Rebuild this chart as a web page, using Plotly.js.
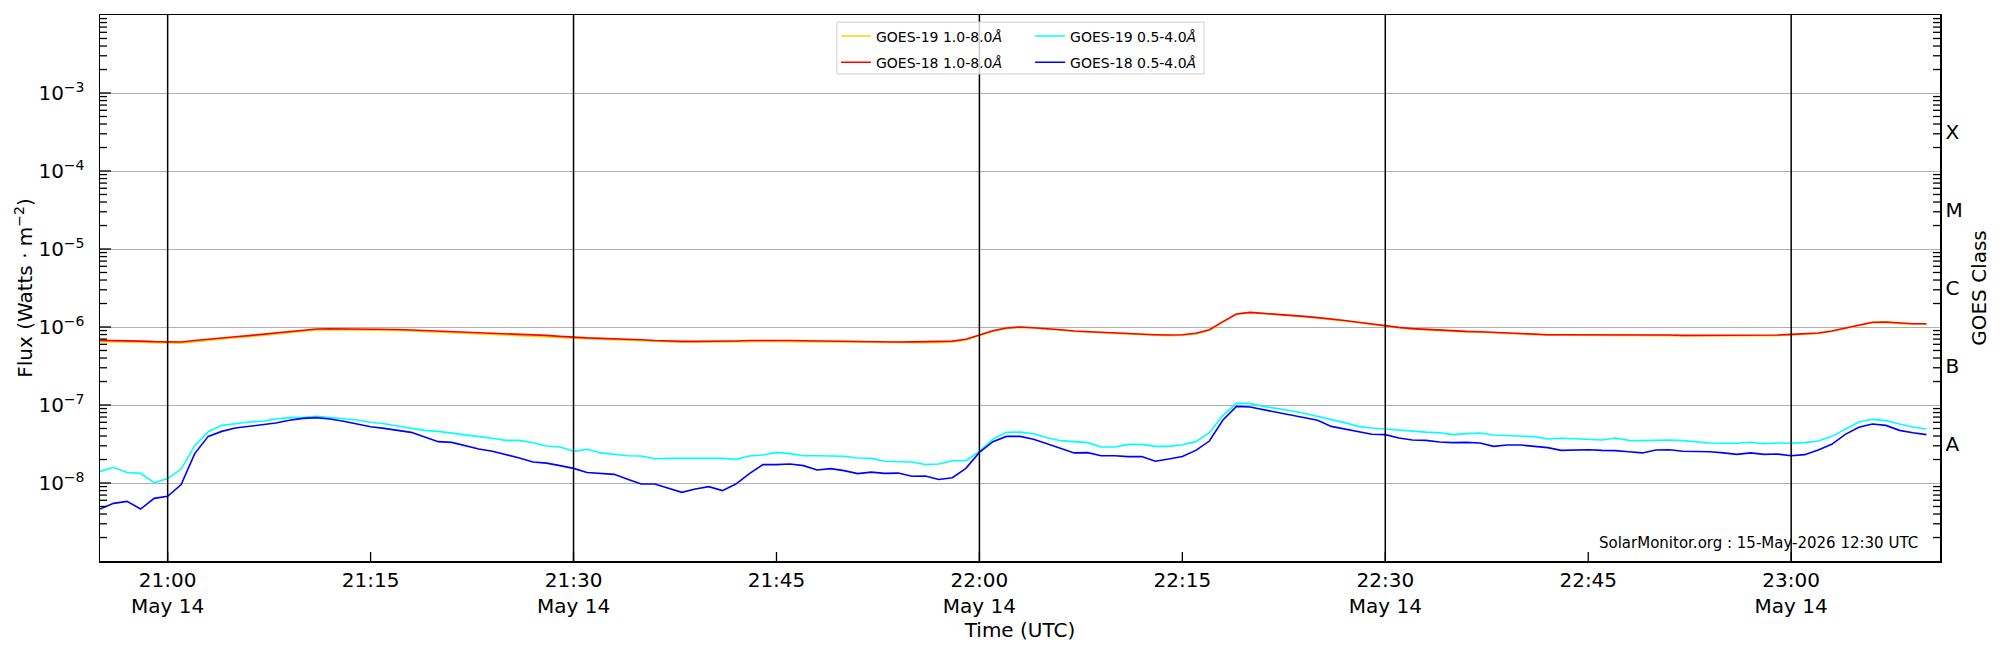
<!DOCTYPE html>
<html>
<head>
<meta charset="utf-8">
<script src="https://cdn.plot.ly/plotly-3.0.1.min.js"></script>
<style>
  html, body { margin: 0; padding: 0; background: #fff; }
  #chart { width: 2000px; height: 650px; }
</style>
</head>
<body>
<div id="chart"></div>
<script>
// one-minute samples, 20:55 to 23:10 UTC on 14 May
const startTime = "2026-05-14 20:55";
const nSamples = 136;

const goes19Long = [
  6.5e-7, 6.5e-7, 6.48e-7, 6.4e-7, 6.3e-7,
  6.2e-7, 6.22e-7, 6.5e-7, 6.8e-7, 7.1e-7, 7.3e-7, 7.5e-7, 7.8e-7, 8.1e-7, 8.45e-7,
  8.8e-7, 9.15e-7, 9.25e-7, 9.25e-7, 9.25e-7, 9.2e-7, 9.15e-7, 9.05e-7, 8.9e-7, 8.75e-7,
  8.6e-7, 8.5e-7, 8.35e-7, 8.25e-7, 8.15e-7, 8.05e-7, 7.9e-7, 7.75e-7, 7.57e-7, 7.37e-7,
  7.17e-7, 7.05e-7, 6.95e-7, 6.87e-7, 6.75e-7, 6.65e-7, 6.5e-7, 6.42e-7, 6.37e-7, 6.37e-7,
  6.37e-7, 6.37e-7, 6.43e-7, 6.5e-7, 6.55e-7, 6.53e-7, 6.5e-7, 6.46e-7, 6.4e-7, 6.42e-7,
  6.38e-7, 6.3e-7, 6.26e-7, 6.23e-7, 6.23e-7, 6.26e-7, 6.3e-7, 6.36e-7, 6.42e-7, 6.8e-7,
  7.75e-7, 8.85e-7, 9.6e-7, 9.9e-7, 9.7e-7, 9.5e-7, 9.12e-7, 8.76e-7, 8.58e-7, 8.38e-7,
  8.24e-7, 8.16e-7, 7.96e-7, 7.83e-7, 7.75e-7, 7.83e-7, 8.16e-7, 9.1e-7, 1.16e-6, 1.46e-6,
  1.53e-6, 1.49e-6, 1.46e-6, 1.42e-6, 1.36e-6, 1.31e-6, 1.26e-6, 1.2e-6, 1.14e-6, 1.08e-6,
  1.02e-6, 9.8e-7, 9.4e-7, 9.18e-7, 9.02e-7, 8.84e-7, 8.67e-7, 8.58e-7, 8.42e-7, 8.24e-7,
  8.09e-7, 7.97e-7, 7.84e-7, 7.84e-7, 7.84e-7, 7.84e-7, 7.92e-7, 7.92e-7, 7.92e-7, 7.76e-7,
  7.76e-7, 7.76e-7, 7.69e-7, 7.69e-7, 7.69e-7, 7.69e-7, 7.69e-7, 7.69e-7, 7.76e-7, 7.76e-7,
  7.92e-7, 8.0e-7, 8.24e-7, 8.74e-7, 9.46e-7, 1.045e-6, 1.135e-6, 1.145e-6, 1.105e-6, 1.085e-6, 1.085e-6
];

const goes18Long = [
  6.74e-7, 6.72e-7, 6.7e-7, 6.6e-7, 6.5e-7,
  6.4e-7, 6.42e-7, 6.7e-7, 7.0e-7, 7.3e-7, 7.5e-7, 7.75e-7, 8.05e-7, 8.37e-7, 8.7e-7,
  9.05e-7, 9.42e-7, 9.5e-7, 9.5e-7, 9.5e-7, 9.45e-7, 9.42e-7, 9.3e-7, 9.15e-7, 9.0e-7,
  8.88e-7, 8.75e-7, 8.6e-7, 8.5e-7, 8.4e-7, 8.3e-7, 8.15e-7, 8.0e-7, 7.8e-7, 7.59e-7,
  7.38e-7, 7.25e-7, 7.15e-7, 7.08e-7, 6.95e-7, 6.85e-7, 6.7e-7, 6.6e-7, 6.55e-7, 6.55e-7,
  6.55e-7, 6.55e-7, 6.62e-7, 6.7e-7, 6.74e-7, 6.72e-7, 6.7e-7, 6.65e-7, 6.6e-7, 6.62e-7,
  6.58e-7, 6.5e-7, 6.45e-7, 6.42e-7, 6.42e-7, 6.45e-7, 6.5e-7, 6.55e-7, 6.6e-7, 6.95e-7,
  7.89e-7, 8.97e-7, 9.7e-7, 1.0e-6, 9.8e-7, 9.61e-7, 9.24e-7, 8.88e-7, 8.7e-7, 8.5e-7,
  8.37e-7, 8.3e-7, 8.1e-7, 7.97e-7, 7.89e-7, 7.97e-7, 8.3e-7, 9.24e-7, 1.17e-6, 1.47e-6,
  1.54e-6, 1.5e-6, 1.47e-6, 1.43e-6, 1.37e-6, 1.32e-6, 1.27e-6, 1.21e-6, 1.15e-6, 1.09e-6,
  1.03e-6, 9.9e-7, 9.52e-7, 9.3e-7, 9.15e-7, 8.97e-7, 8.8e-7, 8.71e-7, 8.55e-7, 8.37e-7,
  8.22e-7, 8.1e-7, 7.97e-7, 7.97e-7, 7.97e-7, 7.97e-7, 8.05e-7, 8.05e-7, 8.05e-7, 7.89e-7,
  7.89e-7, 7.89e-7, 7.82e-7, 7.82e-7, 7.82e-7, 7.82e-7, 7.82e-7, 7.82e-7, 7.89e-7, 7.89e-7,
  8.05e-7, 8.13e-7, 8.37e-7, 8.88e-7, 9.61e-7, 1.06e-6, 1.15e-6, 1.16e-6, 1.12e-6, 1.10e-6, 1.10e-6
];

const goes19Short = [
  1.41e-8, 1.59e-8, 1.36e-8, 1.33e-8, 1.01e-8,
  1.14e-8, 1.51e-8, 3.01e-8, 4.55e-8, 5.48e-8, 5.76e-8, 6.05e-8, 6.18e-8, 6.62e-8, 6.88e-8,
  6.88e-8, 7.16e-8, 6.88e-8, 6.62e-8, 6.42e-8, 6.00e-8, 5.76e-8, 5.38e-8, 5.02e-8, 4.73e-8,
  4.59e-8, 4.33e-8, 4.17e-8, 3.93e-8, 3.74e-8, 3.52e-8, 3.52e-8, 3.29e-8, 2.98e-8, 2.89e-8,
  2.55e-8, 2.70e-8, 2.43e-8, 2.31e-8, 2.24e-8, 2.22e-8, 2.05e-8, 2.07e-8, 2.07e-8, 2.05e-8,
  2.07e-8, 2.07e-8, 2.01e-8, 2.22e-8, 2.28e-8, 2.47e-8, 2.38e-8, 2.24e-8, 2.24e-8, 2.24e-8,
  2.20e-8, 2.09e-8, 2.07e-8, 1.90e-8, 1.86e-8, 1.86e-8, 1.73e-8, 1.75e-8, 1.93e-8, 1.93e-8,
  2.55e-8, 3.66e-8, 4.46e-8, 4.49e-8, 4.29e-8, 3.81e-8, 3.49e-8, 3.39e-8, 3.29e-8, 2.89e-8,
  2.89e-8, 3.13e-8, 3.13e-8, 2.95e-8, 2.95e-8, 3.10e-8, 3.39e-8, 4.41e-8, 7.38e-8, 1.05e-7,
  1.05e-7, 9.61e-8, 9.06e-8, 8.45e-8, 7.82e-8, 7.08e-8, 6.49e-8, 5.94e-8, 5.32e-8, 5.07e-8,
  4.92e-8, 4.69e-8, 4.55e-8, 4.49e-8, 4.41e-8, 4.17e-8, 4.29e-8, 4.37e-8, 4.12e-8, 4.04e-8,
  3.96e-8, 3.93e-8, 3.66e-8, 3.74e-8, 3.70e-8, 3.63e-8, 3.56e-8, 3.78e-8, 3.52e-8, 3.49e-8,
  3.56e-8, 3.56e-8, 3.49e-8, 3.36e-8, 3.26e-8, 3.23e-8, 3.23e-8, 3.33e-8, 3.19e-8, 3.26e-8,
  3.23e-8, 3.29e-8, 3.45e-8, 3.96e-8, 4.88e-8, 6.05e-8, 6.55e-8, 6.30e-8, 5.71e-8, 5.23e-8, 4.92e-8
];

const goes18Short = [
  4.64e-9, 5.48e-9, 5.82e-9, 4.64e-9, 6.35e-9,
  6.74e-9, 9.53e-9, 2.38e-8, 3.96e-8, 4.59e-8, 5.07e-8, 5.32e-8, 5.54e-8, 5.88e-8, 6.36e-8,
  6.74e-8, 6.88e-8, 6.62e-8, 6.18e-8, 5.71e-8, 5.27e-8, 5.02e-8, 4.73e-8, 4.46e-8, 3.89e-8,
  3.39e-8, 3.32e-8, 3.01e-8, 2.73e-8, 2.55e-8, 2.33e-8, 2.09e-8, 1.86e-8, 1.80e-8, 1.67e-8,
  1.54e-8, 1.36e-8, 1.32e-8, 1.29e-8, 1.12e-8, 9.7e-9, 9.7e-9, 8.63e-9, 7.59e-9, 8.38e-9,
  8.97e-9, 7.98e-9, 9.7e-9, 1.32e-8, 1.72e-8, 1.72e-8, 1.75e-8, 1.67e-8, 1.47e-8, 1.53e-8,
  1.44e-8, 1.32e-8, 1.38e-8, 1.33e-8, 1.34e-8, 1.22e-8, 1.23e-8, 1.11e-8, 1.17e-8, 1.54e-8,
  2.47e-8, 3.39e-8, 3.96e-8, 3.96e-8, 3.63e-8, 3.19e-8, 2.78e-8, 2.43e-8, 2.45e-8, 2.24e-8,
  2.24e-8, 2.18e-8, 2.18e-8, 1.90e-8, 2.03e-8, 2.18e-8, 2.62e-8, 3.45e-8, 6.42e-8, 9.61e-8,
  9.42e-8, 8.71e-8, 8.13e-8, 7.59e-8, 6.95e-8, 6.36e-8, 5.32e-8, 4.92e-8, 4.46e-8, 4.21e-8,
  4.17e-8, 3.78e-8, 3.56e-8, 3.52e-8, 3.36e-8, 3.29e-8, 3.32e-8, 3.26e-8, 2.95e-8, 3.07e-8,
  3.07e-8, 2.95e-8, 2.84e-8, 2.62e-8, 2.67e-8, 2.67e-8, 2.62e-8, 2.60e-8, 2.52e-8, 2.43e-8,
  2.65e-8, 2.67e-8, 2.55e-8, 2.55e-8, 2.52e-8, 2.43e-8, 2.33e-8, 2.43e-8, 2.33e-8, 2.35e-8,
  2.24e-8, 2.31e-8, 2.65e-8, 3.13e-8, 4.21e-8, 5.18e-8, 5.71e-8, 5.48e-8, 4.73e-8, 4.41e-8, 4.17e-8
];

// x ticks every 15 min, black rules every 30 min
const tickTimes = ["2026-05-14 21:00", "2026-05-14 21:15", "2026-05-14 21:30", "2026-05-14 21:45",
  "2026-05-14 22:00", "2026-05-14 22:15", "2026-05-14 22:30", "2026-05-14 22:45", "2026-05-14 23:00"];
const tickLabels = ["21:00<br>May 14", "21:15", "21:30<br>May 14", "21:45",
  "22:00<br>May 14", "22:15", "22:30<br>May 14", "22:45", "23:00<br>May 14"];
const ruleTimes = ["2026-05-14 21:00", "2026-05-14 21:30", "2026-05-14 22:00", "2026-05-14 22:30", "2026-05-14 23:00"];

const fluxTicks = [1e-8, 1e-7, 1e-6, 1e-5, 1e-4, 1e-3];
const fluxLabels = ["10<sup>−8</sup>", "10<sup>−7</sup>", "10<sup>−6</sup>", "10<sup>−5</sup>", "10<sup>−4</sup>", "10<sup>−3</sup>"];
const classTicks = [3.16e-8, 3.16e-7, 3.16e-6, 3.16e-5, 3.16e-4];
const classLabels = ["A", "B", "C", "M", "X"];
const minorDecades = [1e-9, 1e-8, 1e-7, 1e-6, 1e-5, 1e-4, 1e-3];
const minorMantissas = [2, 3, 4, 5, 6, 7, 8, 9];

function pad(n) { return (n < 10 ? "0" : "") + n; }
const t0 = new Date(startTime.replace(" ", "T") + ":00Z");
const times = [];
for (let i = 0; i < nSamples; i++) {
  const d = new Date(t0.getTime() + i * 60000);
  times.push(d.getUTCFullYear() + "-" + pad(d.getUTCMonth() + 1) + "-" + pad(d.getUTCDate()) +
    " " + pad(d.getUTCHours()) + ":" + pad(d.getUTCMinutes()));
}
const minorVals = [];
minorDecades.forEach(dec => minorMantissas.forEach(m => minorVals.push(m * dec)));

const font = "DejaVu Sans, sans-serif";

// y2 carries the GOES class labels on the right; same log range as y
const traces = [
  { x: times, y: goes19Long, name: "GOES-19 1.0-8.0<i>Å</i>", legend: "legend", legendgroup: "a",
    type: "scatter", mode: "lines", line: { color: "#ffd000", width: 1.6 }, yaxis: "y" },
  { x: times, y: goes18Long, name: "GOES-18 1.0-8.0<i>Å</i>", legend: "legend", legendgroup: "b",
    type: "scatter", mode: "lines", line: { color: "#ff0000", width: 1.6 }, yaxis: "y2" },
  { x: times, y: goes19Short, name: "GOES-19 0.5-4.0<i>Å</i>", legend: "legend2", legendgroup: "c",
    type: "scatter", mode: "lines", line: { color: "#00ffff", width: 1.6 }, yaxis: "y2" },
  { x: times, y: goes18Short, name: "GOES-18 0.5-4.0<i>Å</i>", legend: "legend2", legendgroup: "d",
    type: "scatter", mode: "lines", line: { color: "#0000ff", width: 1.6 }, yaxis: "y2" }
];

const shapes = ruleTimes.map(t => ({
  type: "line", xref: "x", yref: "paper", x0: t, x1: t, y0: 0, y1: 1,
  line: { color: "#000", width: 1.5 }, layer: "above"
}));

// inward tick marks drawn as short pixel-sized lines on the spines
const tickLine = { color: "#000", width: 1.3 };
tickTimes.forEach(t => shapes.push({
  type: "line", xref: "x", yref: "paper", ysizemode: "pixel", yanchor: 0,
  x0: t, x1: t, y0: 0, y1: 9, line: tickLine, layer: "above"
}));
fluxTicks.forEach(v => shapes.push({
  type: "line", xref: "paper", yref: "y", xsizemode: "pixel", xanchor: 0,
  x0: 0, x1: 11, y0: v, y1: v, line: tickLine, layer: "above"
}));
minorVals.forEach(v => {
  shapes.push({ type: "line", xref: "paper", yref: "y", xsizemode: "pixel", xanchor: 0,
    x0: 0, x1: 7, y0: v, y1: v, line: tickLine, layer: "above" });
  shapes.push({ type: "line", xref: "paper", yref: "y", xsizemode: "pixel", xanchor: 1,
    x0: -7, x1: 0, y0: v, y1: v, line: tickLine, layer: "above" });
});

// legend frame
shapes.push({
  type: "rect", xref: "paper", yref: "paper", x0: 0.4005, x1: 0.6, y0: 0.892, y1: 0.987,
  fillcolor: "rgba(255,255,255,0.8)", line: { color: "#d0d0d0", width: 1 }, layer: "above"
});

const legendCommon = {
  yanchor: "top", y: 0.99, xanchor: "left", bgcolor: "rgba(0,0,0,0)", borderwidth: 0,
  font: { family: font, size: 14, color: "#000" }, tracegroupgap: 5
};

const layout = {
  width: 2000, height: 650,
  margin: { l: 100, r: 60, t: 15, b: 89 },
  paper_bgcolor: "#fff", plot_bgcolor: "#fff",
  font: { family: font, size: 20, color: "#000" },
  showlegend: true,
  legend: Object.assign({ x: 0.4 }, legendCommon),
  legend2: Object.assign({ x: 0.5055 }, legendCommon),
  xaxis: {
    type: "date", range: ["2026-05-14 20:55", "2026-05-14 23:11"],
    tickmode: "array", tickvals: tickTimes, ticktext: tickLabels, ticks: "",
    showgrid: false, zeroline: false,
    showline: true, mirror: true, linecolor: "#000", linewidth: 1.5,
    tickfont: { family: font, size: 20 },
    title: { text: "Time (UTC)", font: { family: font, size: 20 }, standoff: 3 }
  },
  yaxis: {
    type: "log", range: [-9, -2],
    tickmode: "array", tickvals: fluxTicks, ticktext: fluxLabels, ticks: "",
    showgrid: true, gridcolor: "#b0b0b0", gridwidth: 1, zeroline: false,
    showline: true, linecolor: "#000", linewidth: 1.5,
    tickfont: { family: font, size: 20 }, ticklabelstandoff: 10,
    title: { text: "Flux (Watts · m<sup>−2</sup>)", font: { family: font, size: 20 }, standoff: 0 }
  },
  yaxis2: {
    type: "log", range: [-9, -2], overlaying: "y", side: "right",
    tickmode: "array", tickvals: classTicks, ticktext: classLabels,
    ticks: "", showgrid: false, zeroline: false,
    showline: true, linecolor: "#000", linewidth: 1.5,
    tickfont: { family: font, size: 20 }, ticklabelstandoff: 0,
    title: { text: "GOES Class", font: { family: font, size: 20 }, standoff: 10 }
  },
  shapes: shapes,
  annotations: [{
    text: "SolarMonitor.org : 15-May-2026 12:30 UTC", xref: "paper", yref: "paper",
    x: 0.989, y: 0.033, xanchor: "right", yanchor: "middle", showarrow: false,
    font: { family: font, size: 15, color: "#000" }
  }]
};

Plotly.newPlot("chart", traces, layout, { staticPlot: true, displayModeBar: false });
</script>
</body>
</html>
